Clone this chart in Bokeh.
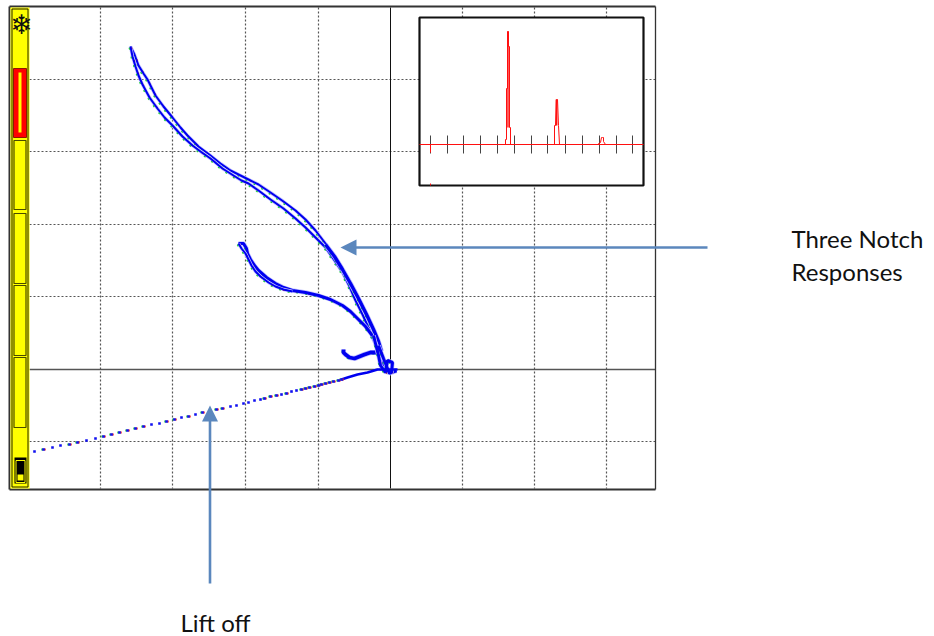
from bokeh.plotting import figure
from bokeh.models import Range1d
from bokeh.embed import file_html
from bokeh.resources import INLINE
from bokeh.core.properties import value

# All positions below are readings from the picture (page pixels).
grid_x = [100, 172, 245, 318, 462, 534, 606]
grid_y = [79, 151, 224, 296, 441]
axis_x0 = 390
axis_y0 = 369

upper_x = [130,134,138,143,147,151,155,163,172,180,187,198,210,220,230,240,248,258,270,283,295,305,315,325,334,342,350,358,366,373,378,381]
upper_y = [46,54,65,73,79,87,95,106,117,127,135,146,155,163,170,175,179,184,192,201,210,219,230,243,255,268,282,297,313,328,340,350]
lower_x = [130,132,135,138,142,149,157,164,172,182,192,200,210,222,233,241,248,258,270,283,295,305,316,325,334,342,349,355,362,368,374,378]
lower_y = [46,56,66,75,84,97,108,117,125,136,145,151,158,168,175,180,183,190,199,208,218,227,238,247,260,272,286,300,314,327,340,348]
thick_x = [325,334,342,350,358,366,373,378,381]
thick_y = [244,256,269,283,298,314,329,341,351]

notch2_x = [238,243,246,247,250,254,258,266,275,283,292,305,318,330,342,350,358,365,371,376,380,386]
notch2_y = [243,243,248,253,259,265,270,277,283,287,290,292,295,299,305,311,319,326,334,345,355,368]
notch2b_x = [238,241,245,248,251,255,260,268,275,283,292]
notch2b_y = [243,248,253,259,265,271,276,282,286,289,291]

notch3_x = [343,343,345,349,354,359,364,370,376,380,383,385,390,396]
notch3_y = [349,352,354,357,358,356,354,352,352,356,362,371,372,370]
loop_x = [373,378,380,385,387,392,391,389,383,378]
loop_y = [335,355,365,372,360,362,372,373,358,345]

lift_x = [34,43,52,60,69,77,86,95,103,111,119,127,135,143,151,159,166,174,181,188,195,202,209,216,222,230,236,243,248,254,260,264,270,276,281,286,291,296,301,305,309,314,318,321,325,329,333,338,341]
lift_y = [451,449,447,445,444,442,440,438,436,434,432,430,428,426,424,423,421,419,417,416,414,412,411,409,408,406,405,403,402,400,399,398,396,395,394,393,391,390,389,388,387,386,385,384,383,382,381,380,379]
lift_mix = [0,1,0,0,1,1,0,0,1,1,1,1,1,1,0,0,1,1,0,1,0,1,0,1,1,0,0,0,0,0,0,1,1,1,0,1,0,0,1,1,1,1,1,1,1,1,1,1,1]
tail_x = [341,347,357,367,377,387,397]
tail_y = [379,377,374,372,369,369,369]

inset_ticks = [430,447,463,480,497,514,531,547,565,582,599,616,632]
peak_x = [505,505,506,506,507,507,508,508,509,509,510,510]
peak_y = [144,139,139,88,88,31,31,46,46,127,127,144]
spike_x = [507.5, 507.5]
spike_y = [31, 127]
peak2_x = [553,554,554,555,556,557,558,558,559]
peak2_y = [144,144,125,125,99,99,125,125,144]
spike2_x = [556, 556]
spike2_y = [99, 125]
peak3_x = [597,600,601,602,603,603,605]
peak3_y = [144,142,137,137,137,141,144]

W, H = 934, 636
p = figure(width=W, height=H, output_backend="svg", toolbar_location=None,
           x_range=Range1d(0, W), y_range=Range1d(H, 0), min_border=0,
           outline_line_color=None, x_axis_type=None, y_axis_type=None,
           background_fill_color="white", border_fill_color="white")
p.grid.visible = False

# plot grid
grey = "#555555"
p.segment(grid_x, [7]*len(grid_x), grid_x, [488]*len(grid_x), line_color=grey, line_width=1.2, line_dash="2 2")
p.segment([29]*len(grid_y), grid_y, [655]*len(grid_y), grid_y, line_color=grey, line_width=1.2, line_dash="2 2")
p.segment([axis_x0], [7], [axis_x0], [488], line_color="#111111", line_width=1)
p.segment([29], [axis_y0], [655], [axis_y0], line_color="#555555", line_width=1.3)

# frame
p.segment([9, 9, 655, 9], [6, 489, 6, 6], [655, 655, 655, 9], [6, 489, 489, 489],
          line_color="#333333", line_width=[2, 2, 1.3, 2])

# yellow side bar
p.quad(left=[10], right=[29], top=[7], bottom=[488], fill_color="#ffff00", line_color=None)
p.quad(left=[11.5], right=[27.5], top=[8.5], bottom=[486.5], fill_color=None, line_color="#222200", line_width=1)
p.quad(left=[13], right=[26], top=[68], bottom=[137], fill_color="#ff0000", line_color="#8a1a00", line_width=1)
p.quad(left=[18], right=[21], top=[72], bottom=[132], fill_color="#ffff00", line_color=None)
p.quad(left=[13.5]*4, right=[25.5]*4, top=[140,213,285,357], bottom=[209,283,355,427],
       fill_color="#ffff00", line_color="#4a4a00", line_width=1.2)
p.quad(left=[14], right=[26], top=[457], bottom=[483], fill_color="#000000", line_color=None)
p.quad(left=[15.5], right=[24.5], top=[460], bottom=[482], fill_color="#000000", line_color="#ffff00", line_width=1)
p.quad(left=[17], right=[23], top=[474], bottom=[480], fill_color="#ffff00", line_color=None)
p.text([21], [24], text=["\u2744"], text_font=value("DejaVu Sans"), text_font_size="27px",
       text_align="center", text_baseline="middle", text_color="#111111")

# curves: pale halo, sparse colour fringe, blue trace on top
paths = [(upper_x, upper_y, 2), (lower_x, lower_y, 2), (thick_x, thick_y, 3.4), (notch2_x, notch2_y, 3),
         (notch2b_x, notch2b_y, 2), (notch3_x, notch3_y, 3.8), (loop_x, loop_y, 3)]
for xs, ys, w in paths:
    p.line(xs, ys, line_color="#c4c4ff", line_width=w + 1.4)
    p.line([x - 1.2 for x in xs], [y + 1.2 for y in ys], line_color="#22cc44", line_width=1.4, line_dash="2 7")
    p.line([x + 0.9 for x in xs], [y + 0.9 for y in ys], line_color="#dd2222", line_width=1.2, line_dash="2 11")
    p.line(xs, ys, line_color="#0000f0", line_width=w)
p.line(tail_x, tail_y, line_color="#0000f0", line_width=2.6)

# lift-off dots
mx = [x for x, m in zip(lift_x, lift_mix) if m]
my = [y for y, m in zip(lift_y, lift_mix) if m]
p.scatter([x - 1.2 for x in mx], my, marker="square", size=2, fill_color="#22cc44", line_color=None)
p.scatter([x + 1.2 for x in mx], my, marker="square", size=2, fill_color="#ee2222", line_color=None)
p.scatter(lift_x, lift_y, marker="square", size=2.6, fill_color="#1010f0", line_color=None)

# inset
p.quad(left=[419], right=[643], top=[17], bottom=[185], fill_color="white", line_color="#111111", line_width=2.2)
n = len(inset_ticks)
p.segment(inset_ticks, [135]*n, inset_ticks, [153]*n, line_color="#444444", line_width=1)
p.line([419, 643], [144, 144], line_color="#ff1010", line_width=1.2)
p.line(peak_x, peak_y, line_color="#ff1010", line_width=1)
p.line(spike_x, spike_y, line_color="#ff1010", line_width=1.4)
p.line(peak2_x, peak2_y, line_color="#ff1010", line_width=1)
p.line(spike2_x, spike2_y, line_color="#ff1010", line_width=1.8)
p.line(peak3_x, peak3_y, line_color="#ff1010", line_width=1)
p.segment([430, 430], [144, 183], [430, 430], [152, 185], line_color="#ff1010", line_width=1)

# arrows
arrow = "#5b87bd"
p.segment([354, 209.5], [247, 420], [707, 209.5], [247, 583], line_color=arrow, line_width=2.6)
p.patch([340, 356, 356], [247, 239, 255], fill_color=arrow, line_color=None)
p.patch([209.5, 201.5, 217.5], [405, 421, 421], fill_color=arrow, line_color=None)

# labels
p.text([791, 791, 180], [238, 271, 622], text=["Three Notch", "Responses", "Lift off"],
       text_font=value("Lato"), text_font_size="24px", text_color="#111111",
       text_align="left", text_baseline="alphabetic")

open("out.html", "w").write(file_html(p, INLINE))
